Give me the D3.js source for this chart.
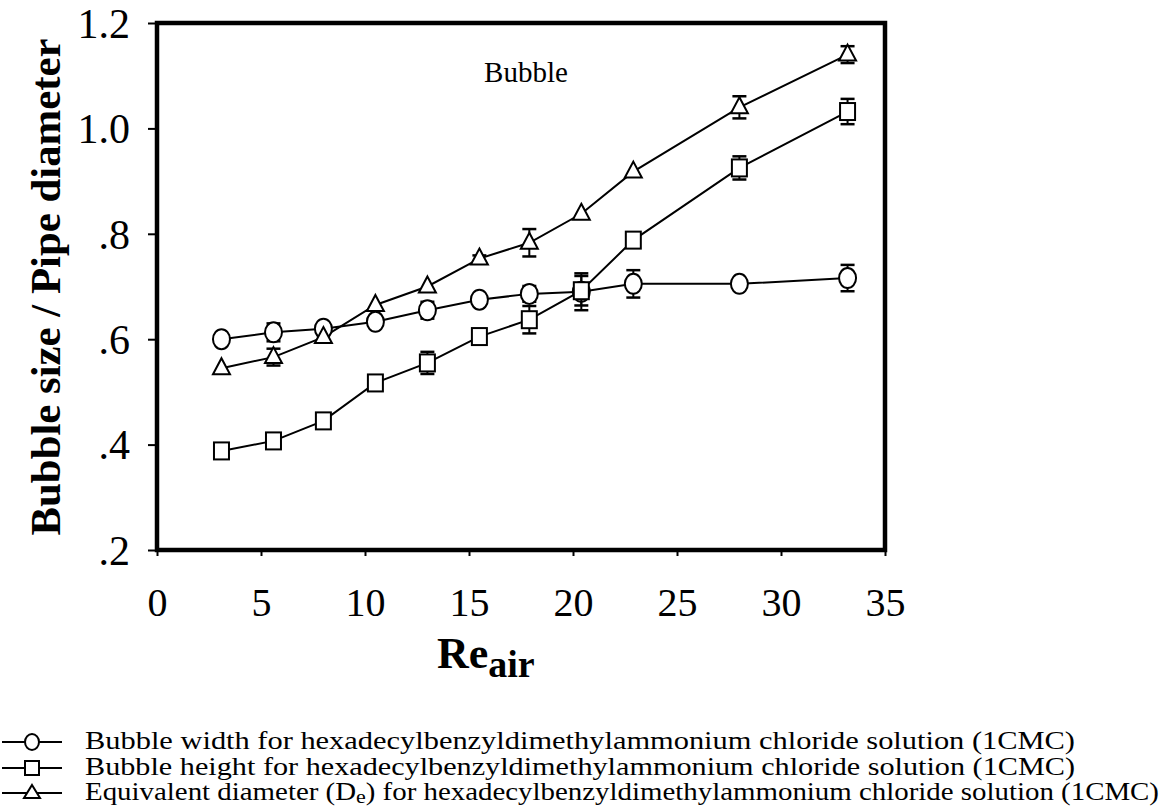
<!DOCTYPE html>
<html><head><meta charset="utf-8">
<script src="https://cdn.jsdelivr.net/npm/d3@7"></script>
<style>body{margin:0;background:#fff}svg{display:block}svg text{font-family:"Liberation Serif","Times New Roman",Tinos,Times,serif !important;fill:#000}</style>
</head><body>
<svg id="chart" width="1162" height="808" font-family="Liberation Serif"></svg>
<script>
const reAir = [3.1, 5.6, 8.0, 10.5, 13.0, 15.5, 17.9, 20.4, 22.9, 28.0, 33.2];
const widthVals  = [0.600, 0.613, 0.620, 0.633, 0.655, 0.675, 0.686, 0.690, 0.705, 0.705, 0.716];
const widthErr   = [0, 0.017, 0.008, 0.008, 0.016, 0.006, 0.015, 0.035, 0.026, 0, 0.025];
const heightVals = [0.388, 0.407, 0.445, 0.517, 0.555, 0.605, 0.637, 0.692, 0.788, 0.925, 1.032];
const heightErr  = [0, 0, 0, 0, 0.021, 0.008, 0.026, 0.028, 0, 0.022, 0.024];
const eqDiamVals = [0.545, 0.566, 0.604, 0.665, 0.700, 0.753, 0.783, 0.838, 0.918, 1.040, 1.140];
const eqDiamErr  = [0, 0.016, 0, 0, 0, 0.006, 0.026, 0, 0, 0.021, 0.016];
const yTicks = [0.2, 0.4, 0.6, 0.8, 1.0, 1.2];
const yTickLabels = [".2", ".4", ".6", ".8", "1.0", "1.2"];
const xTicks = [0, 5, 10, 15, 20, 25, 30, 35];
const legendLabels = [
  "Bubble width for hexadecylbenzyldimethylammonium chloride solution (1CMC)",
  "Bubble height for hexadecylbenzyldimethylammonium chloride solution (1CMC)",
  "Equivalent diameter (D|e) for hexadecylbenzyldimethylammonium chloride solution (1CMC)"
];

const FONT = '"Liberation Serif","Times New Roman",Tinos,Times,serif';
const svg = d3.select("#chart");
const x = d3.scaleLinear().domain([0, 35]).range([157, 885]);
const y = d3.scaleLinear().domain([0.2, 1.2]).range([550, 23]);

// axes
const yAxis = d3.axisLeft(y).tickValues(yTicks).tickSize(9).tickPadding(18)
  .tickFormat((d, i) => yTickLabels[i]);
const gy = svg.append("g").attr("transform", `translate(${x(0)},0)`).call(yAxis).attr("font-family", FONT);
gy.select(".domain").remove();
gy.selectAll(".tick line").attr("stroke", "#000").attr("stroke-width", 2);
gy.selectAll(".tick text").style("font-size", "42px").attr("dy", "0.34em");

const xAxis = d3.axisBottom(x).tickValues(xTicks).tickSize(6).tickPadding(32);
const gx = svg.append("g").attr("transform", `translate(0,${y(0.2)})`).call(xAxis).attr("font-family", FONT);
gx.select(".domain").remove();
gx.selectAll(".tick line").attr("stroke", "#000").attr("stroke-width", 2);
gx.selectAll(".tick text").style("font-size", "40px");

// frame
svg.append("rect").attr("x", x(0)).attr("y", y(1.2))
  .attr("width", x(35) - x(0)).attr("height", y(0.2) - y(1.2))
  .attr("fill", "none").attr("stroke", "#000").attr("stroke-width", 4.5);

// annotation
svg.append("text").attr("x", 526).attr("y", 82).attr("text-anchor", "middle")
  .style("font-size", "29px").text("Bubble");

// axis titles
svg.append("text").attr("transform", "translate(60,287) rotate(-90)")
  .attr("text-anchor", "middle").style("font-size", "43px").style("font-weight", "bold")
  .attr("textLength", 497).attr("lengthAdjust", "spacingAndGlyphs")
  .text("Bubble size / Pipe diameter");
const xt = svg.append("text").attr("x", 437).attr("y", 668).style("font-weight", "bold");
xt.append("tspan").style("font-size", "44px").text("Re");
xt.append("tspan").style("font-size", "38px").attr("dy", 9).text("air");

// marker drawing
function drawMarker(g, type, cx, cy) {
  if (type === "circle") {
    g.append("ellipse").attr("cx", cx).attr("cy", cy).attr("rx", 8.5).attr("ry", 10)
      .attr("fill", "#fff").attr("stroke", "#000").attr("stroke-width", 2);
  } else if (type === "square") {
    g.append("rect").attr("x", cx - 7.5).attr("y", cy - 8.5).attr("width", 15).attr("height", 17)
      .attr("fill", "#fff").attr("stroke", "#000").attr("stroke-width", 2);
  } else {
    g.append("path").attr("d", `M${cx},${cy - 10}L${cx + 8.5},${cy + 6}L${cx - 8.5},${cy + 6}Z`)
      .attr("fill", "#fff").attr("stroke", "#000").attr("stroke-width", 2);
  }
}

const series = [
  {vals: widthVals, err: widthErr, type: "circle"},
  {vals: heightVals, err: heightErr, type: "square"},
  {vals: eqDiamVals, err: eqDiamErr, type: "triangle"}
];
const line = d3.line().x(d => x(d[0])).y(d => y(d[1]));

series.forEach(s => {
  const pts = reAir.map((r, i) => [r, s.vals[i], s.err[i]]);
  svg.append("path").datum(pts).attr("d", line).attr("fill", "none")
    .attr("stroke", "#000").attr("stroke-width", 2);
});
series.forEach(s => {
  const g = svg.append("g");
  reAir.forEach((r, i) => {
    const e = s.err[i];
    if (e > 0) {
      const cx = x(r), y1 = y(s.vals[i] + e), y2 = y(s.vals[i] - e);
      g.append("line").attr("x1", cx).attr("x2", cx).attr("y1", y1).attr("y2", y2)
        .attr("stroke", "#000").attr("stroke-width", 2);
      [y1, y2].forEach(yy => g.append("line").attr("x1", cx - 7).attr("x2", cx + 7)
        .attr("y1", yy).attr("y2", yy).attr("stroke", "#000").attr("stroke-width", 2.5));
    }
  });
  reAir.forEach((r, i) => drawMarker(g, s.type, x(r), y(s.vals[i])));
});

// legend
const legY = [742, 768, 793];
const legW = [990, 990, 1074];
legendLabels.forEach((lab, i) => {
  const g = svg.append("g");
  g.append("line").attr("x1", 2).attr("x2", 62).attr("y1", legY[i]).attr("y2", legY[i])
    .attr("stroke", "#000").attr("stroke-width", 2);
  const t = series[i].type;
  if (t === "circle") g.append("ellipse").attr("cx", 32).attr("cy", legY[i]).attr("rx", 7).attr("ry", 8)
    .attr("fill", "#fff").attr("stroke", "#000").attr("stroke-width", 2);
  else if (t === "square") g.append("rect").attr("x", 25).attr("y", legY[i] - 7).attr("width", 14).attr("height", 14)
    .attr("fill", "#fff").attr("stroke", "#000").attr("stroke-width", 2);
  else g.append("path").attr("d", `M32,${legY[i] - 8}L40,${legY[i] + 5}L24,${legY[i] + 5}Z`)
    .attr("fill", "#fff").attr("stroke", "#000").attr("stroke-width", 2);
  const txt = g.append("text").attr("x", 85).attr("y", legY[i] + 7).style("font-size", "25px")
    .attr("textLength", legW[i]).attr("lengthAdjust", "spacingAndGlyphs");
  const parts = lab.split("|");
  if (parts.length === 1) txt.text(lab);
  else {
    const m = parts[1].match(/^(\S)(.*)$/);
    txt.append("tspan").text(parts[0]);
    txt.append("tspan").attr("dy", 3).style("font-size", "19px").text(m[1]);
    txt.append("tspan").attr("dy", -3).text(m[2]);
  }
});
</script>
</body></html>
